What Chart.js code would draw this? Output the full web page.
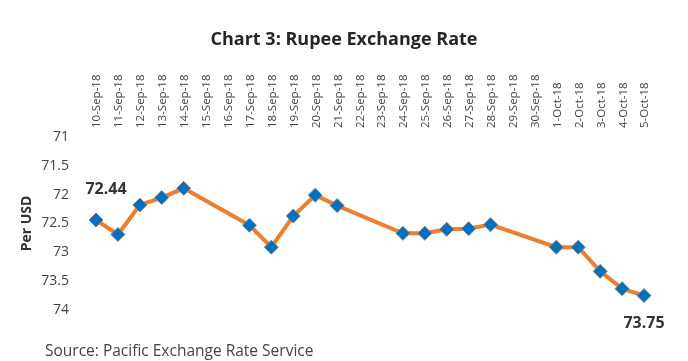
<!DOCTYPE html>
<html><head><meta charset="utf-8">
<script src="https://cdn.jsdelivr.net/npm/chart.js@4"></script>
<style>
html,body{margin:0;padding:0;background:#fff;}
#wrap{position:relative;width:688px;height:361px;}
#ttl{position:absolute;left:0;width:688px;top:26px;text-align:center;font-family:"Open Sans",sans-serif;font-weight:bold;font-size:18px;line-height:24px;color:#262626;}
#src{position:absolute;left:45px;top:340px;font-family:"Open Sans",sans-serif;font-size:15.5px;line-height:20px;color:#444;white-space:nowrap;}
</style></head>
<body>
<div id="wrap"><canvas id="c" width="688" height="361"></canvas>
<div id="ttl">Chart 3: Rupee Exchange Rate</div>
<div id="src">Source: Pacific Exchange Rate Service</div></div>
<script>
const categories = ["10-Sep-18","11-Sep-18","12-Sep-18","13-Sep-18","14-Sep-18","15-Sep-18","16-Sep-18","17-Sep-18","18-Sep-18","19-Sep-18","20-Sep-18","21-Sep-18","22-Sep-18","23-Sep-18","24-Sep-18","25-Sep-18","26-Sep-18","27-Sep-18","28-Sep-18","29-Sep-18","30-Sep-18","1-Oct-18","2-Oct-18","3-Oct-18","4-Oct-18","5-Oct-18"];
const rupeePerUsd = [72.44,72.69,72.18,72.05,71.89,null,null,72.53,72.91,72.37,72.01,72.19,null,null,72.67,72.67,72.60,72.59,72.52,null,null,72.91,72.91,73.33,73.63,73.75];
const yTicks = [71,71.5,72,72.5,73,73.5,74];
const labelledPoints = [{index:0, text:"72.44", dx:10, dy:-31}, {index:25, text:"73.75", dx:0, dy:28}];

const labelPlugin = {
  id:'pointLabels',
  afterDatasetsDraw(chart){
    const ctx = chart.ctx;
    const x = chart.scales.x, y = chart.scales.y;
    ctx.save();
    ctx.font = 'bold 16px "Open Sans", sans-serif';
    ctx.fillStyle = '#333';
    ctx.textAlign = 'center';
    ctx.textBaseline = 'middle';
    labelledPoints.forEach(p=>{
      const px = x.getPixelForValue(p.index);
      const py = y.getPixelForValue(rupeePerUsd[p.index]);
      ctx.fillText(p.text, px + p.dx, py + p.dy);
    });
    ctx.restore();
  }
};

new Chart(document.getElementById('c'), {
  type:'line',
  data:{labels:categories, datasets:[{
    data:rupeePerUsd, spanGaps:true,
    borderColor:'#ED7D31', borderWidth:4, tension:0,
    pointStyle:'rectRot', pointRadius:7, pointHoverRadius:7,
    pointBackgroundColor:'#0070C0', pointBorderColor:'#8c8073', pointBorderWidth:1
  }]},
  options:{
    responsive:false, animation:false,
    layout:{padding:{left:0,right:44,top:50,bottom:51}},
    plugins:{ legend:{display:false}, tooltip:{enabled:false}, title:{display:false} },
    scales:{
      x:{position:'top', offset:false,
        grid:{display:false, drawTicks:false}, border:{display:false},
        afterFit(s){ s.height = 87; },
        ticks:{autoSkip:false, minRotation:90, maxRotation:90, padding:9, labelOffset:15, color:'#444',
          font:{family:'"Open Sans", sans-serif', size:11.5}}
      },
      y:{reverse:true, min:71, max:74,
        afterBuildTicks(s){ s.ticks = yTicks.map(v=>({value:v})); },
        afterFit(s){ s.width = 96; },
        grid:{display:false, drawTicks:false}, border:{display:false},
        ticks:{padding:27, color:'#444', font:{family:'"Open Sans", sans-serif', size:14},
          callback:(v)=>String(v)},
        title:{display:true, text:'Per USD', color:'#333', font:{family:'"Open Sans", sans-serif', size:14, weight:'bold'}, padding:{top:19,bottom:0}}
      }
    }
  },
  plugins:[labelPlugin]
});
</script>
</body></html>
